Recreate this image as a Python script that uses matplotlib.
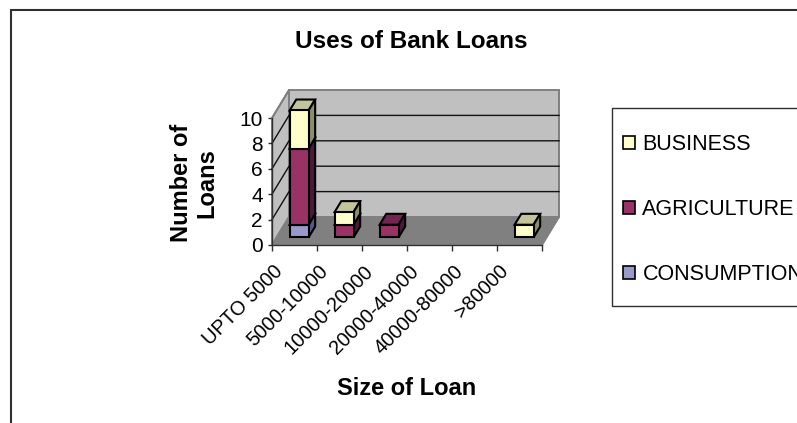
import matplotlib
matplotlib.use('Agg')
import matplotlib.pyplot as plt
from matplotlib.patches import Polygon, Rectangle
from matplotlib.transforms import ScaledTranslation

plt.rcParams['font.family'] = ['Liberation Sans', 'DejaVu Sans']

# data
categories = ['UPTO 5000', '5000-10000', '10000-20000', '20000-40000', '40000-80000', '>80000']
consumption = [1, 0, 0, 0, 0, 0]
agriculture = [6, 1, 1, 0, 0, 0]
business = [3, 1, 0, 0, 0, 1]
series = [('CONSUMPTION', consumption, '#9999cc', '#bdbdd0', '#55558c'),
          ('AGRICULTURE', agriculture, '#993366', '#722550', '#4a1a38'),
          ('BUSINESS', business, '#ffffcc', '#c4c49c', '#8c8c70')]
yticks = [0, 2, 4, 6, 8, 10]

W, H = 797, 423
fig = plt.figure(figsize=(W / 100, H / 100), dpi=100)


def fx(px):
    return px / W


def fy(py):
    return 1 - py / H


ax = fig.add_axes([fx(272), fy(245), fx(270), fy(118) - fy(245)])
ax.set_xlim(0, 6)
ax.set_ylim(0, 10)
ax.patch.set_visible(False)

# depth of the 3d box, in data units
DX = 17 / 45
DY = 28 / 12.7
BAR_W = 0.42
D0, D1 = 0.27, 0.66


def add_poly(pts, fc, ec='#808080', lw=1.4, z=1):
    ax.add_patch(Polygon(pts, closed=True, facecolor=fc, edgecolor=ec, linewidth=lw, zorder=z, clip_on=False))


# walls and floor
add_poly([(0, 0), (DX, DY), (DX, 10 + DY), (0, 10)], '#c0c0c0')
add_poly([(DX, DY), (6 + DX, DY), (6 + DX, 10 + DY), (DX, 10 + DY)], '#c0c0c0')
add_poly([(0, 0), (6, 0), (6 + DX, DY), (DX, DY)], '#808080')
for t in yticks[1:-1]:
    ax.plot([0, DX, 6 + DX], [t, t + DY, t + DY], color='#111111', lw=1.0, zorder=2, clip_on=False)
ax.plot([0, DX], [10, 10 + DY], color='#808080', lw=1.2, zorder=2, clip_on=False)

# stacked bars, painted left to right and bottom to top
for i in range(len(categories)):
    bottom = 0
    for name, vals, col, topcol, sidecol in series:
        v = vals[i]
        if v == 0:
            continue
        left = i + 0.5 - BAR_W / 2
        right = left + BAR_W
        y0 = bottom
        y1 = bottom + v
        z = 3 + i * 0.1 + y0 * 0.001
        add_poly([(left + D0 * DX, y1 + D0 * DY), (right + D0 * DX, y1 + D0 * DY),
                  (right + D1 * DX, y1 + D1 * DY), (left + D1 * DX, y1 + D1 * DY)],
                 topcol, ec='black', lw=1.5, z=z)
        add_poly([(right + D0 * DX, y0 + D0 * DY), (right + D1 * DX, y0 + D1 * DY),
                  (right + D1 * DX, y1 + D1 * DY), (right + D0 * DX, y1 + D0 * DY)],
                 sidecol, ec='black', lw=1.5, z=z)
        ax.bar(i + 0.5 + D0 * DX, v, BAR_W, bottom=y0 + D0 * DY, color=col,
               edgecolor='black', linewidth=1.5, zorder=z + 0.0005, clip_on=False)
        bottom = y1

for s in ['top', 'right']:
    ax.spines[s].set_visible(False)
for s in ['left', 'bottom']:
    ax.spines[s].set_color('#303030')
    ax.spines[s].set_linewidth(1.0)
    ax.spines[s].set_zorder(2.5)

ax.set_yticks(yticks)
ax.tick_params(axis='y', labelsize=15, length=3, width=1, pad=3.5, color='#303030')
ax.set_xticks(range(7))
ax.set_xticklabels([])
ax.tick_params(axis='x', which='major', length=4, width=1, color='#303030')
ax.set_xticks([i + 0.5 for i in range(6)], minor=True)
ax.set_xticklabels(categories, minor=True, rotation=45, ha='right', rotation_mode='anchor', fontsize=14.3)
ax.tick_params(axis='x', which='minor', length=0, pad=12)
shift = ScaledTranslation(-21 / 100, 0, fig.dpi_scale_trans)
for lab in ax.get_xticklabels(minor=True):
    lab.set_transform(lab.get_transform() + shift)

# outer chart border, runs off the right and bottom of the crop
fig.add_artist(Rectangle((fx(11), fy(H + 20)), fx(W + 20), fy(10) - fy(H + 20), transform=fig.transFigure,
                         facecolor='none', edgecolor='#303030', linewidth=1.5))

fig.text(fx(411), fy(41), 'Uses of Bank Loans', ha='center', va='center', fontsize=17.5, fontweight='bold')
fig.text(fx(407), fy(388), 'Size of Loan', ha='center', va='center', fontsize=17, fontweight='bold')
fig.text(fx(194), fy(183), 'Number of\nLoans', ha='center', va='center', rotation=90, fontsize=17,
         fontweight='bold', linespacing=1.15)

# legend box runs off the right edge like the reference
fig.add_artist(Rectangle((fx(612), fy(306)), fx(W), fy(108) - fy(306), transform=fig.transFigure,
                         facecolor='white', edgecolor='#303030', linewidth=1.0))
handles = [Rectangle((0, 0), 1, 1, facecolor=c[2], edgecolor='black', linewidth=1.2) for c in series[::-1]]
labels = [c[0] for c in series[::-1]]
leg = fig.legend(handles, labels, loc='upper left', bbox_to_anchor=(fx(623), fy(134)), fontsize=15.5,
                 frameon=False, labelspacing=2.05, handlelength=0.55, handleheight=0.55,
                 handletextpad=0.35, borderpad=0, borderaxespad=0)
leg.set_zorder(5)

fig.savefig('out.png', dpi=100)
